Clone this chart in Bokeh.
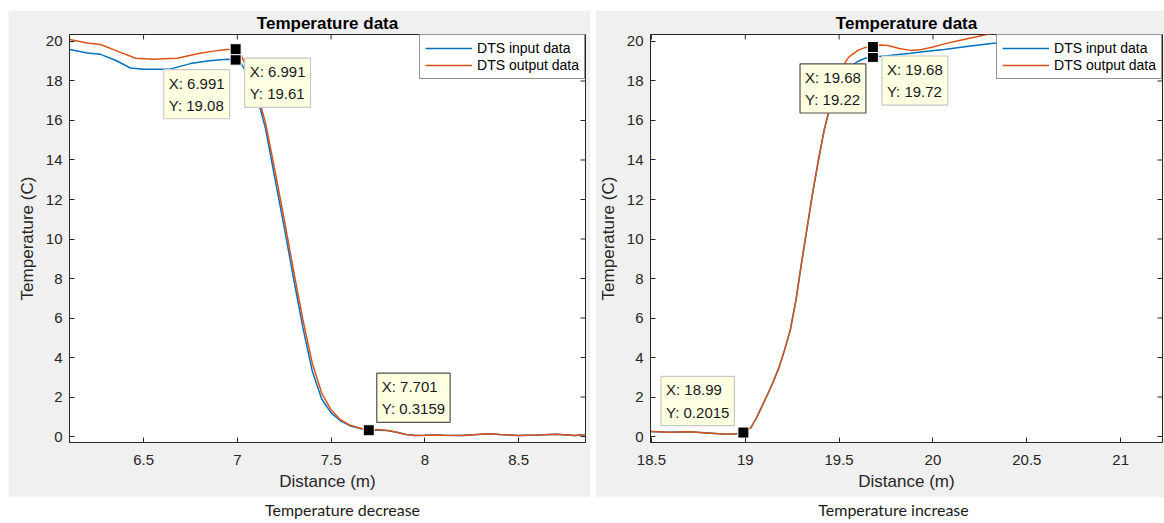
from bokeh.plotting import figure
from bokeh.models import (FixedTicker, Range1d, Label, Legend, LegendItem)
from bokeh.layouts import row, column
from bokeh.embed import file_html
from bokeh.resources import INLINE

# ---------------- data ----------------
# Left panel: temperature decrease
dec_in_x = [6.106, 6.20, 6.27, 6.35, 6.43, 6.50, 6.64, 6.75, 6.85, 6.947, 6.991,
            7.02, 7.05, 7.10, 7.15, 7.20, 7.25, 7.30, 7.35, 7.40, 7.45, 7.50,
            7.55, 7.60, 7.65, 7.701, 7.75, 7.80, 7.85, 7.90, 7.95, 8.00, 8.05,
            8.10, 8.20, 8.30, 8.35, 8.40, 8.50, 8.60, 8.70, 8.80, 8.86]
dec_in_y = [19.60, 19.42, 19.35, 19.05, 18.66, 18.60, 18.60, 18.88, 19.02, 19.10, 19.08,
            18.90, 18.40, 17.40, 15.60, 13.10, 10.60, 8.00, 5.50, 3.30, 1.90, 1.20,
            0.80, 0.55, 0.42, 0.3159, 0.32, 0.30, 0.22, 0.10, 0.05, 0.06, 0.08,
            0.06, 0.05, 0.12, 0.14, 0.10, 0.05, 0.08, 0.12, 0.05, 0.10]
dec_out_x = [6.106, 6.20, 6.27, 6.35, 6.457, 6.55, 6.68, 6.80, 6.90, 6.947, 6.991,
             7.02, 7.05, 7.10, 7.15, 7.20, 7.25, 7.30, 7.35, 7.40, 7.45, 7.50,
             7.55, 7.60, 7.65, 7.701, 7.75, 7.80, 7.85, 7.90, 7.95, 8.00, 8.05,
             8.10, 8.20, 8.30, 8.35, 8.40, 8.50, 8.60, 8.70, 8.80, 8.86]
dec_out_y = [20.10, 19.92, 19.85, 19.55, 19.15, 19.10, 19.15, 19.40, 19.55, 19.60, 19.61,
             19.30, 18.70, 17.60, 15.90, 13.50, 11.00, 8.40, 5.90, 3.70, 2.20, 1.35,
             0.85, 0.58, 0.43, 0.3159, 0.35, 0.30, 0.22, 0.10, 0.05, 0.06, 0.08,
             0.06, 0.05, 0.12, 0.14, 0.10, 0.05, 0.08, 0.12, 0.05, 0.10]
dec_tip_x = [6.991, 6.991, 7.701]
dec_tip_y = [19.08, 19.61, 0.3159]

# Right panel: temperature increase
inc_in_x = [18.495, 18.60, 18.70, 18.80, 18.90, 18.95, 18.99, 19.03, 19.06, 19.09, 19.12,
            19.15, 19.18, 19.21, 19.24, 19.27, 19.30, 19.33, 19.36, 19.39, 19.42,
            19.45, 19.48, 19.51, 19.55, 19.60, 19.64, 19.68, 19.71, 19.78, 19.88,
            19.97, 20.06, 20.18, 20.31, 20.50, 20.80, 21.23]
inc_in_y = [0.25, 0.22, 0.24, 0.18, 0.12, 0.14, 0.2015, 0.45, 0.95, 1.55, 2.15,
            2.80, 3.50, 4.40, 5.40, 6.90, 8.80, 10.60, 12.40, 14.00, 15.50,
            16.60, 17.50, 18.20, 18.65, 19.00, 19.15, 19.22, 19.24, 19.30, 19.40,
            19.50, 19.60, 19.75, 19.90, 20.05, 20.10, 20.15]
inc_out_x = [18.495, 18.60, 18.70, 18.80, 18.90, 18.95, 18.99, 19.03, 19.06, 19.09, 19.12,
             19.15, 19.18, 19.21, 19.24, 19.27, 19.30, 19.33, 19.36, 19.39, 19.42,
             19.45, 19.48, 19.51, 19.55, 19.60, 19.64, 19.68, 19.72, 19.76, 19.82,
             19.88, 19.94, 20.00, 20.06, 20.14, 20.22, 20.31, 20.40, 20.60, 21.23]
inc_out_y = [0.25, 0.22, 0.24, 0.18, 0.12, 0.14, 0.2015, 0.45, 0.95, 1.55, 2.15,
             2.80, 3.50, 4.40, 5.40, 6.90, 8.80, 10.60, 12.40, 14.00, 15.50,
             16.70, 17.80, 18.60, 19.20, 19.55, 19.70, 19.72, 19.82, 19.80, 19.65,
             19.55, 19.60, 19.72, 19.88, 20.05, 20.22, 20.40, 20.55, 20.70, 20.80]
inc_tip_x = [19.68, 19.68, 18.99]
inc_tip_y = [19.22, 19.72, 0.2015]

y_ticks = [0, 2, 4, 6, 8, 10, 12, 14, 16, 18, 20]
dec_x_ticks = [6.5, 7, 7.5, 8, 8.5]
dec_x_labels = ["6.5", "7", "7.5", "8", "8.5"]
inc_x_ticks = [18.5, 19, 19.5, 20, 20.5, 21]
inc_x_labels = ["18.5", "19", "19.5", "20", "20.5", "21"]

series_names = ["DTS input data", "DTS output data"]
title_text = "Temperature data"
x_label = "Distance (m)"
y_label = "Temperature (C)"
captions = ["Temperature decrease", "Temperature increase"]

BLUE = "#0072BD"
ORANGE = "#D95319"
FONT = "Liberation Sans"
AX = "#262626"
GRAY_BG = "#f0f0f0"
Y_RANGE = (-0.303, 20.354)
TICK_PX = 5


def style_axis(ax, ticks, labels=None):
    ax.ticker = FixedTicker(ticks=ticks)
    if labels is not None:
        ax.major_label_overrides = {t: l for t, l in zip(ticks, labels)}
    ax.major_tick_in = TICK_PX
    ax.major_tick_out = 0
    ax.minor_tick_in = 0
    ax.minor_tick_out = 0
    ax.axis_line_color = AX
    ax.major_tick_line_color = AX
    ax.major_label_text_font = FONT
    ax.major_label_text_color = AX
    ax.major_label_text_font_size = "15px"


def make_panel(width, mleft, mright, xr, xticks, xlabels, in_x, in_y, out_x, out_y,
               tip_x, tip_y, tip_specs, margin):
    height = 487
    mtop, mbottom = 23, 55
    p = figure(width=width, height=height, output_backend="svg", toolbar_location=None,
               x_range=Range1d(*xr), y_range=Range1d(*Y_RANGE),
               min_border_left=mleft, min_border_right=mright,
               min_border_top=mtop, min_border_bottom=mbottom,
               title=title_text)
    p.margin = margin
    p.background_fill_color = "white"
    p.border_fill_color = GRAY_BG
    p.outline_line_color = AX
    p.outline_line_width = 1
    p.grid.visible = False

    p.title.align = "center"
    p.title.text_font = FONT
    p.title.text_font_size = "17px"
    p.title.text_font_style = "bold"
    p.title.text_color = "black"
    p.title.standoff = 3

    style_axis(p.xaxis[0], xticks, xlabels)
    style_axis(p.yaxis[0], y_ticks)
    p.xaxis[0].major_label_standoff = 12
    p.yaxis[0].major_label_standoff = 7
    for ax, lab in ((p.xaxis[0], x_label), (p.yaxis[0], y_label)):
        ax.axis_label = lab
        ax.axis_label_text_font = FONT
        ax.axis_label_text_font_size = "17px"
        ax.axis_label_text_font_style = "normal"
        ax.axis_label_text_color = AX
    p.xaxis[0].axis_label_standoff = 4
    p.yaxis[0].axis_label_standoff = 6

    # inward tick marks on the top and right frame edges (MATLAB box style)
    frame_w = width - mleft - mright
    frame_h = height - mtop - mbottom
    dy = TICK_PX * (Y_RANGE[1] - Y_RANGE[0]) / frame_h
    dx = TICK_PX * (xr[1] - xr[0]) / frame_w
    p.segment(x0=xticks, x1=xticks, y0=[Y_RANGE[1]] * len(xticks),
              y1=[Y_RANGE[1] - dy] * len(xticks), line_color=AX, line_width=1)
    p.segment(x0=[xr[1]] * len(y_ticks), x1=[xr[1] - dx] * len(y_ticks),
              y0=y_ticks, y1=y_ticks, line_color=AX, line_width=1)

    r_in = p.line(in_x, in_y, line_color=BLUE, line_width=1.5)
    r_out = p.line(out_x, out_y, line_color=ORANGE, line_width=1.5)

    p.scatter(tip_x, tip_y, marker="square", size=11, fill_color="black",
              line_color="white", line_width=1)

    for x, y, (ox, oy, anchor, bcol) in zip(tip_x, tip_y, tip_specs):
        p.add_layout(Label(x=x, y=y, x_offset=ox, y_offset=oy,
                           text=f"X: {x:g}\nY: {y:g}",
                           anchor=anchor, text_align="left",
                           text_font=FONT, text_font_size="15px", text_color="#1a1a1a",
                           text_line_height=1.3,
                           background_fill_color="#ffffe1", background_fill_alpha=1,
                           border_line_color=bcol, border_line_width=1.2,
                           padding=5))

    legend = Legend(items=[LegendItem(label=series_names[0], renderers=[r_in]),
                           LegendItem(label=series_names[1], renderers=[r_out])],
                    location="top_right", margin=0, padding=5, spacing=1,
                    glyph_width=47, glyph_height=16, label_height=16,
                    label_standoff=5, label_text_font=FONT,
                    label_text_font_size="14px", label_text_color="black",
                    border_line_color=AX, border_line_width=1,
                    background_fill_color="white", background_fill_alpha=1)
    p.add_layout(legend)
    return p


LIGHT = "#c8c8c8"
DARK = "#505050"
dec_specs = [(-6, -10, "top_right", LIGHT),
             (9, -9, "top_left", LIGHT),
             (8, 8, "bottom_left", DARK)]
inc_specs = [(-7, -7, "top_right", DARK),
             (9, -9, "top_left", LIGHT),
             (-9, 7, "bottom_right", LIGHT)]

p1 = make_panel(582, 61, 5, (6.105, 8.857), dec_x_ticks, dec_x_labels,
                dec_in_x, dec_in_y, dec_out_x, dec_out_y, dec_tip_x, dec_tip_y,
                dec_specs, (10, 0, 0, 8))
p2 = make_panel(569, 54, 2, (18.495, 21.223), inc_x_ticks, inc_x_labels,
                inc_in_x, inc_in_y, inc_out_x, inc_out_y, inc_tip_x, inc_tip_y,
                inc_specs, (10, 0, 0, 5))

cap = figure(width=1164, height=26, output_backend="svg", toolbar_location=None,
             x_range=Range1d(0, 1164), y_range=Range1d(0, 26),
             x_axis_location=None, y_axis_location=None,
             min_border=0)
cap.outline_line_color = None
cap.grid.visible = False
cap.border_fill_color = "white"
for cx, txt in zip([342, 893], captions):
    cap.add_layout(Label(x=cx, y=14, text=txt, text_align="center", text_baseline="middle",
                         text_font="Lato", text_font_size="16px", text_color="#1a1a1a"))

layout = column(row(p1, p2), cap)
open("out.html", "w").write(file_html(layout, INLINE))
